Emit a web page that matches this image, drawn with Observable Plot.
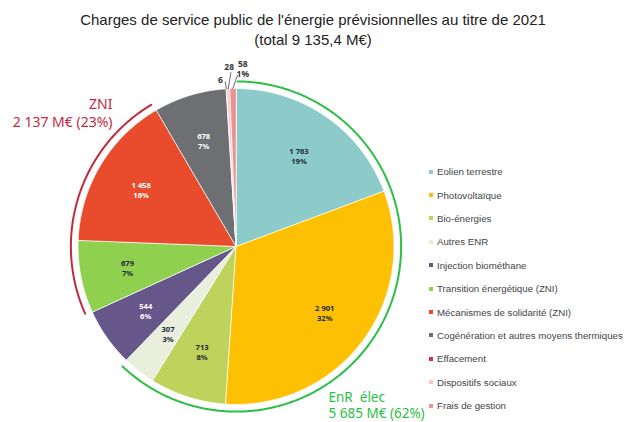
<!DOCTYPE html>
<html><head><meta charset="utf-8">
<script src="https://cdn.jsdelivr.net/npm/d3@7"></script>
<script src="https://cdn.jsdelivr.net/npm/@observablehq/plot@0.6"></script>
<style>
body{margin:0;background:#fff;font-family:"Liberation Sans",Arial,sans-serif;}
#wrap{position:relative;width:626px;height:422px;overflow:hidden;background:#fff}
#title{height:52px;text-align:center;color:#222;font-size:15px;line-height:20px;padding-top:10px;box-sizing:border-box}
#legend{position:absolute;left:429px;top:160px;font-size:9.7px;color:#444}
#legend .row{height:23.4px;display:flex;align-items:center;white-space:nowrap}
#legend .sw{width:4px;height:4px;margin-right:4px;flex:none}
#chart svg{display:block}
</style></head><body>
<div id="wrap">
<div id="title"><div>Charges de service public de l'énergie prévisionnelles au titre de 2021</div><div>(total 9 135,4 M€)</div></div>
<div id="chart"></div>
<div id="legend"></div>
</div>
<script>
const categories = ["Eolien terrestre","Photovoltaïque","Bio-énergies","Autres ENR","Injection biométhane","Transition énergétique (ZNI)","Mécanismes de solidarité (ZNI)","Cogénération et autres moyens thermiques","Effacement","Dispositifs sociaux","Frais de gestion"];
const values = [1763, 2901, 713, 307, 544, 679, 1458, 678, 6, 28, 58];
const colors = ["#8dcbcb","#fdc003","#bfd35c","#e9eedd","#66578a","#8fd14f","#e84c2c","#6e6f72","#d8303f","#f5c9c9","#ee9191"];
const groupNames = ["EnR  élec","ZNI"];
const groupTotals = [5685, 2137];
const groupShares = [62, 23];
const groupMembers = [[0,1,2,3],[5,6]];
const groupColors = ["#2cbf45","#c42a3d"];

const W = 626, H = 370, R = 158, CX = 235.5, CY = 194;
const loc = d3.formatLocale({decimal:",", thousands:"\u00a0", grouping:[3], currency:["",""]});
const fmt = loc.format(",d");
const sum = d3.sum(values);
let acc = 0;
const slices = categories.map((name,i)=>{
  const a0 = acc/sum*2*Math.PI; acc += values[i]; const a1 = acc/sum*2*Math.PI;
  return {i, name, value: values[i], color: colors[i], a0, a1, mid:(a0+a1)/2, share: values[i]/sum*100};
});
const polys = slices.flatMap(s=>{
  const n = Math.max(2, Math.ceil((s.a1-s.a0)/0.01));
  const pts = [{name:s.name,color:s.color,x:0,y:0}];
  for (let k=0;k<=n;k++){const a=s.a0+(s.a1-s.a0)*k/n; pts.push({name:s.name,color:s.color,x:Math.sin(a),y:Math.cos(a)});}
  return pts;
});
const inside = slices.filter(s=>s.share>=2).map(s=>({
  x:0.7*Math.sin(s.mid), y:0.7*Math.cos(s.mid),
  text: fmt(s.value)+"\n"+Math.round(s.share)+"%",
  fill: d3.lab(s.color).l < 60 ? "#ffffff" : "#1d2b36"
}));
const outOff = [{tx:-6,ty:-9,lx:-1,ly:-7},{tx:1,ty:-22,lx:2.7,ly:-16},{tx:10,ty:-20,lx:4.5,ly:-13}];
const thin = slices.filter(s=>s.share<2);
const outside = thin.map((s,k)=>{
  const ex=Math.sin(s.mid), ey=Math.cos(s.mid), o=outOff[k];
  return {x:ex+o.tx/R, y:ey-o.ty/R, text: fmt(s.value)+(s.share>=0.5? "\n"+Math.round(s.share)+"%":""),
    lead:[{k,x:ex+o.lx/R,y:ey-o.ly/R},{k,x:ex,y:ey}]};
});
const leads = outside.flatMap(d=>d.lead);
const garcs = groupMembers.flatMap((m,g)=>{
  const a0 = slices[m[0]].a0 + 0.01, a1 = slices[m[m.length-1]].a1 - 0.01;
  const n = Math.ceil((a1-a0)/0.01), pts=[];
  for (let k=0;k<=n;k++){const a=a0+(a1-a0)*k/n; pts.push({g, color:groupColors[g], x:1.045*Math.sin(a), y:1.045*Math.cos(a)});}
  return pts;
});
const glabel = g => ({text:groupNames[g]+"\n"+fmt(groupTotals[g])+" M€ ("+groupShares[g]+"%)", color:groupColors[g]});
const enrLabel = [{...glabel(0), x:(328-CX)/R, y:(CY-352)/R}];
const zniLabel = [{...glabel(1), x:(112-CX)/R, y:(CY-60)/R}];

const plot = Plot.plot({
  width: W, height: H, margin: 0,
  x: {domain:[-1,1], range:[CX-R, CX+R], axis:null},
  y: {domain:[-1,1], range:[CY+R, CY-R], axis:null},
  color: {type:"identity"},
  marks: [
    Plot.line(polys, {x:"x", y:"y", z:"name", fill:"color", stroke:"#ffffff", strokeWidth:0.8, curve:"linear-closed"}),
    Plot.line(garcs, {x:"x", y:"y", z:"g", stroke:"color", strokeWidth:2}),
    Plot.text(inside, {x:"x", y:"y", text:"text", fill:"fill", fontSize:7.6, fontWeight:"bold", lineHeight:1.35}),
    Plot.line(leads, {x:"x", y:"y", z:"k", stroke:"#444", strokeWidth:0.8}),
    Plot.text(outside, {x:"x", y:"y", text:"text", fill:"#333", fontSize:8.5, fontWeight:"bold", lineHeight:1.25}),
    Plot.text(enrLabel, {x:"x", y:"y", text:"text", fill:"color", textAnchor:"start", fontSize:13.5, lineHeight:1.22}),
    Plot.text(zniLabel, {x:"x", y:"y", text:"text", fill:"color", textAnchor:"end", fontSize:14, lineHeight:1.25})
  ]
});
document.getElementById("chart").appendChild(plot);

const leg = document.getElementById("legend");
categories.forEach((c,i)=>{
  const row=document.createElement("div"); row.className="row";
  const sw=document.createElement("span"); sw.className="sw"; sw.style.background=colors[i];
  const t=document.createElement("span"); t.textContent=c;
  row.appendChild(sw); row.appendChild(t); leg.appendChild(row);
});
</script>
</body></html>
